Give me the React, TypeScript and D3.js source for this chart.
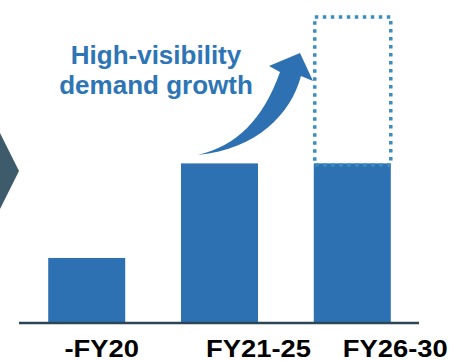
import React from "react";
import * as d3 from "d3";

const categories = ["-FY20", "FY21-25", "FY26-30"];
const values = [21, 52, 52];
const upsideTarget = [null, null, 100];
const labelOffsets = [15, 39, 43];
const headline = ["High-visibility", "demand growth"];

const W = 458;
const H = 361;

export default function App() {
  const x = d3.scaleBand<string>().domain(categories).range([19, 420]).paddingInner(0.42).paddingOuter(0.22);
  const y = d3.scaleLinear().domain([0, 100]).range([322, 17]);
  const bw = x.bandwidth();
  const blue = "#2E71B2";
  const dotted = "#3A8DC1";

  const arrow = d3.path();
  arrow.moveTo(198, 155);
  arrow.bezierCurveTo(236, 146, 263, 120, 280, 72);
  arrow.lineTo(269, 66);
  arrow.lineTo(300, 53);
  arrow.lineTo(313, 81);
  arrow.lineTo(301, 76);
  arrow.bezierCurveTo(291, 114, 257, 149, 198, 155);
  arrow.closePath();

  return (
    <svg width={W} height={H} style={{ position: "absolute", left: 0, top: 0, background: "#fff" }}
      fontFamily="'Liberation Sans', Arial, sans-serif">
      <polygon points="0,133 19,171 0,209" fill="#3D5B6B" />
      {categories.map((c, i) => (
        <rect key={c} x={x(c)} y={y(values[i])} width={bw} height={y(0) - y(values[i])} fill={blue} />
      ))}
      {categories.map((c, i) =>
        upsideTarget[i] != null ? (
          <rect key={"u" + c} x={(x(c) as number) + 1} y={y(upsideTarget[i] as number)} width={bw - 1}
            height={y(values[i]) - y(upsideTarget[i] as number) + 1.5} fill="none" stroke={dotted}
            strokeWidth={3.5} strokeDasharray="3.5 4.5" />
        ) : null
      )}
      <line x1={19} x2={419} y1={y(0) + 1} y2={y(0) + 1} stroke="#2B4756" strokeWidth={2.5} />
      <path d={arrow.toString()} fill={blue} />
      {headline.map((t, i) => (
        <text key={t} x={156} y={64 + i * 30} textAnchor="middle" fontSize={26} fontWeight="bold" fill="#2E75B6">
          {t}
        </text>
      ))}
      {categories.map((c, i) => (
        <text key={"l" + c}
          transform={`translate(${(x(c) as number) + bw / 2 + labelOffsets[i]},357) scale(1.19,1)`}
          textAnchor="middle" fontSize={23} fontWeight="bold" fill="#000">
          {c}
        </text>
      ))}
    </svg>
  );
}
